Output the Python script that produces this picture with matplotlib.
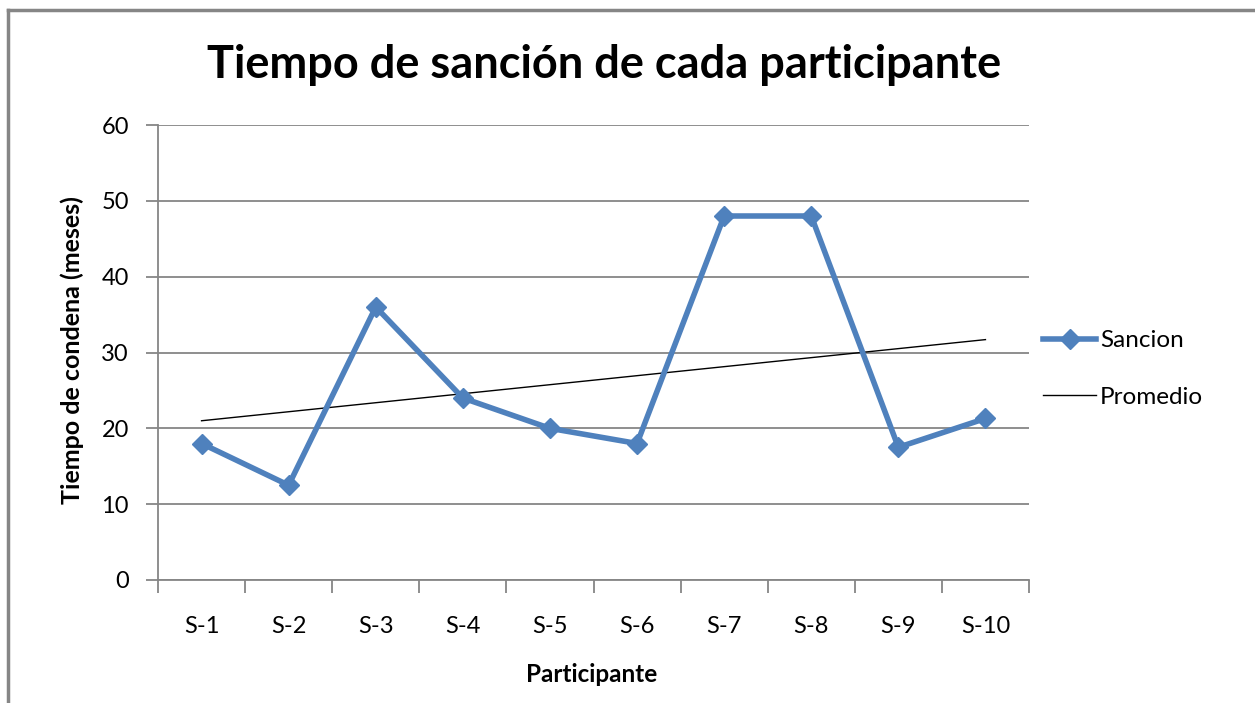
import matplotlib.pyplot as plt
from matplotlib.lines import Line2D

# Data
participants = ['S-1', 'S-2', 'S-3', 'S-4', 'S-5', 'S-6', 'S-7', 'S-8', 'S-9', 'S-10']
sancion = [18, 12.5, 36, 24, 20, 18, 48, 48, 17.5, 21.3]
# Promedio (trend line) end points at S-1 and S-10
promedio_x = ['S-1', 'S-10']
promedio = [21.0, 31.7]

blue = '#4F81BD'
grid_gray = '#868686'
plt.rcParams['font.family'] = ['Lato', 'DejaVu Sans']

fig = plt.figure(figsize=(12.55, 7.03), dpi=100)
fig.patch.set_facecolor('white')
ax = fig.add_axes([158 / 1255, 1 - 580 / 703, (1029 - 158) / 1255, (580 - 125) / 703])

xpos = list(range(len(participants)))
ax.plot(xpos, sancion, color=blue, linewidth=4, marker='D', markersize=10,
        label='Sancion', solid_joinstyle='miter', zorder=3)
px = [participants.index(p) for p in promedio_x]
ax.plot(px, promedio, color='black', linewidth=1, label='Promedio', zorder=2)

ax.set_xlim(-0.5, len(participants) - 0.5)
ax.set_ylim(0, 60)
ax.set_yticks(range(0, 61, 10))
ax.yaxis.grid(True, color=grid_gray, linewidth=1.3)
ax.set_axisbelow(True)

# category ticks sit between the categories, labels centred on them
ax.set_xticks([i - 0.5 for i in range(len(participants) + 1)])
ax.set_xticklabels([])
ax.set_xticks(xpos, minor=True)
ax.set_xticklabels(participants, minor=True)
ax.tick_params(axis='x', which='minor', length=0, pad=26, labelsize=17)
ax.tick_params(axis='x', which='major', length=9, width=1.3, color=grid_gray, direction='out')
ax.tick_params(axis='y', length=9, width=1.3, color=grid_gray, labelsize=17, pad=12)

for side in ['top', 'right']:
    ax.spines[side].set_visible(False)
for side in ['left', 'bottom']:
    ax.spines[side].set_color(grid_gray)
    ax.spines[side].set_linewidth(1.3)

fig.text(604 / 1255, 1 - 65 / 703, 'Tiempo de sanción de cada participante',
         ha='center', va='center', fontsize=32.5, fontweight='bold')
fig.text(72 / 1255, 1 - 350 / 703, 'Tiempo de condena (meses)', rotation=90,
         ha='center', va='center', fontsize=18, fontweight='bold')
fig.text(592 / 1255, 1 - 675 / 703, 'Participante',
         ha='center', va='center', fontsize=17.5, fontweight='bold')

handles = [Line2D([], [], color=blue, linewidth=4, marker='D', markersize=10),
           Line2D([], [], color='black', linewidth=1)]
fig.legend(handles, ['Sancion', 'Promedio'], loc='center left',
           bbox_to_anchor=(1021 / 1255, 1 - 369 / 703), frameon=False,
           fontsize=17.5, handlelength=2.2, handletextpad=0.15, labelspacing=1.45)

# chart area border (top and left edges visible in the original)
fig.add_artist(Line2D([8 / 1255, 8 / 1255], [0, 1 - 10 / 703], transform=fig.transFigure,
                      color=grid_gray, linewidth=2.5))
fig.add_artist(Line2D([8 / 1255, 1], [1 - 10 / 703, 1 - 10 / 703], transform=fig.transFigure,
                      color=grid_gray, linewidth=2.5))

fig.savefig('out.png', dpi=100)
